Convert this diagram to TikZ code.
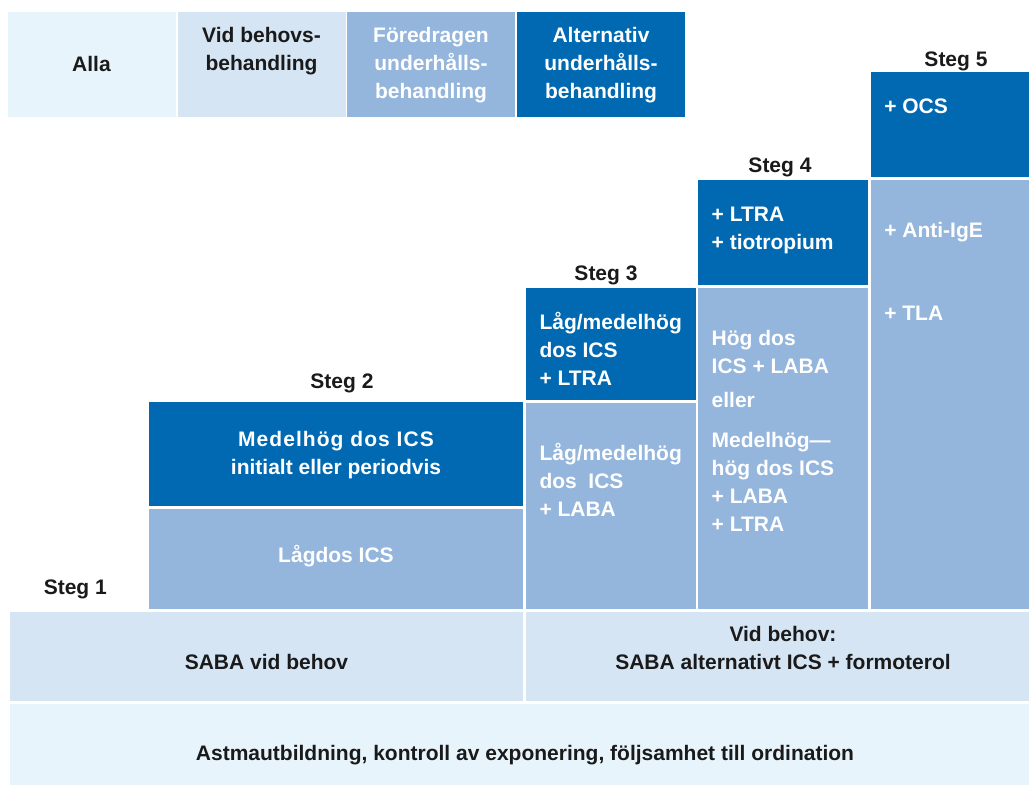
\documentclass[tikz,border=0pt]{standalone}
\usepackage{fontspec}
\setmainfont{Liberation Sans}
\definecolor{cA}{HTML}{E8F4FC}
\definecolor{cB}{HTML}{D5E5F4}
\definecolor{cC}{HTML}{94B5DC}
\definecolor{cD}{HTML}{0069B2}
\definecolor{ink}{HTML}{1A1A1A}
\newcommand\myst{\rule{0pt}{20pt}}
\begin{document}
\begin{tikzpicture}[x=1pt,y=-1pt,
  box/.style={anchor=north west, inner sep=0pt, outer sep=0pt, draw=none},
  txt/.style={inner sep=0pt, outer sep=0pt, font=\bfseries\fontsize{21}{28}\selectfont},
  wt/.style={txt, text=white},
  bk/.style={txt, text=ink}]
\useasboundingbox (0,0) rectangle (1029,785);
% legend
\node[box, fill=cA, minimum width=167.5pt, minimum height=105pt] (legAlla) at (8,12) {};
\node[box, fill=cB, minimum width=167.5pt, minimum height=105pt] (legVid) at (178,12) {};
\node[box, fill=cC, minimum width=168pt, minimum height=105pt] (legFor) at (347,12) {};
\node[box, fill=cD, minimum width=168pt, minimum height=105pt] (legAlt) at (517,12) {};
\node[bk, anchor=base] (tAlla) at (91.5,71) {Alla};
\node[bk, anchor=north, align=center] (tVid) at (261.5,22) {\myst Vid behovs-\\behandling};
\node[wt, anchor=north, align=center] (tFor) at (431,22) {\myst Föredragen\\underhålls-\\behandling};
\node[wt, anchor=north, align=center] (tAlt) at (601,22) {\myst Alternativ\\underhålls-\\behandling};
% step 2
\node[box, fill=cD, minimum width=374pt, minimum height=104pt] (s2d) at (149,402) {};
\node[box, fill=cC, minimum width=374pt, minimum height=100pt] (s2l) at (149,509) {};
\node[bk, anchor=base] (lab2) at (342,388) {Steg 2};
\node[wt, anchor=north, align=center] (t2d) at (336,426) {\myst{\addfontfeature{LetterSpace=5}Medelhög dos ICS}\\initialt eller periodvis};
\node[wt, anchor=base] (t2l) at (336,562) {Lågdos ICS};
% step 3
\node[box, fill=cD, minimum width=169.5pt, minimum height=112.5pt] (s3d) at (526,287.5) {};
\node[box, fill=cC, minimum width=169.5pt, minimum height=206.5pt] (s3l) at (526,402.5) {};
\node[bk, anchor=base] (lab3) at (606,280) {Steg 3};
\node[wt, anchor=north west, align=left] (t3d) at (539.5,309.3) {\myst Låg/medelhög\\dos ICS\\+ LTRA};
\node[wt, anchor=north west, align=left] (t3l) at (539.5,440) {\myst Låg/medelhög\\dos\ \ ICS\\+ LABA};
% step 4
\node[box, fill=cD, minimum width=170pt, minimum height=105.5pt] (s4d) at (698,179.5) {};
\node[box, fill=cC, minimum width=170pt, minimum height=321.5pt] (s4l) at (698,287.5) {};
\node[bk, anchor=base] (lab4) at (780,172) {Steg 4};
\node[wt, anchor=north west, align=left] (t4d) at (711.7,201.7) {\myst + LTRA\\+ tiotropium};
\node[wt, anchor=north west, align=left] (t4a) at (711.7,325.7) {\myst Hög dos\\ICS + LABA};
\node[wt, anchor=base west] (t4b) at (711.7,407.3) {eller};
\node[wt, anchor=north west, align=left] (t4c) at (711.7,427.3) {\myst Medelhög—\\hög dos ICS\\+ LABA\\+ LTRA};
% step 5
\node[box, fill=cD, minimum width=158pt, minimum height=105pt] (s5d) at (871,72) {};
\node[box, fill=cC, minimum width=158pt, minimum height=429.5pt] (s5l) at (871,179.5) {};
\node[bk, anchor=base] (lab5) at (956,66) {Steg 5};
\node[wt, anchor=base west] (t5d) at (884.3,113) {+ OCS};
\node[wt, anchor=base west] (t5a) at (884.3,237.7) {+ Anti-IgE};
\node[wt, anchor=base west] (t5b) at (884.3,320.7) {+ TLA};
% step 1
\node[bk, anchor=base] (lab1) at (75.3,594.5) {Steg 1};
% bottom rows
\node[box, fill=cB, minimum width=513pt, minimum height=88.5pt] (saba) at (10,612) {};
\node[box, fill=cB, minimum width=503pt, minimum height=88.5pt] (sabaR) at (526,612) {};
\node[box, fill=cA, minimum width=1019pt, minimum height=81.5pt] (edu) at (10,703.5) {};
\node[bk, anchor=base] (tsaba) at (266.5,669) {SABA vid behov};
\node[bk, anchor=north, align=center] (tsabaR) at (783,621.7) {\myst Vid behov:\\SABA alternativt ICS + formoterol};
\node[bk, anchor=base] (tedu) at (525,760.7) {Astmautbildning, kontroll av exponering, följsamhet till ordination};
\end{tikzpicture}
\end{document}
